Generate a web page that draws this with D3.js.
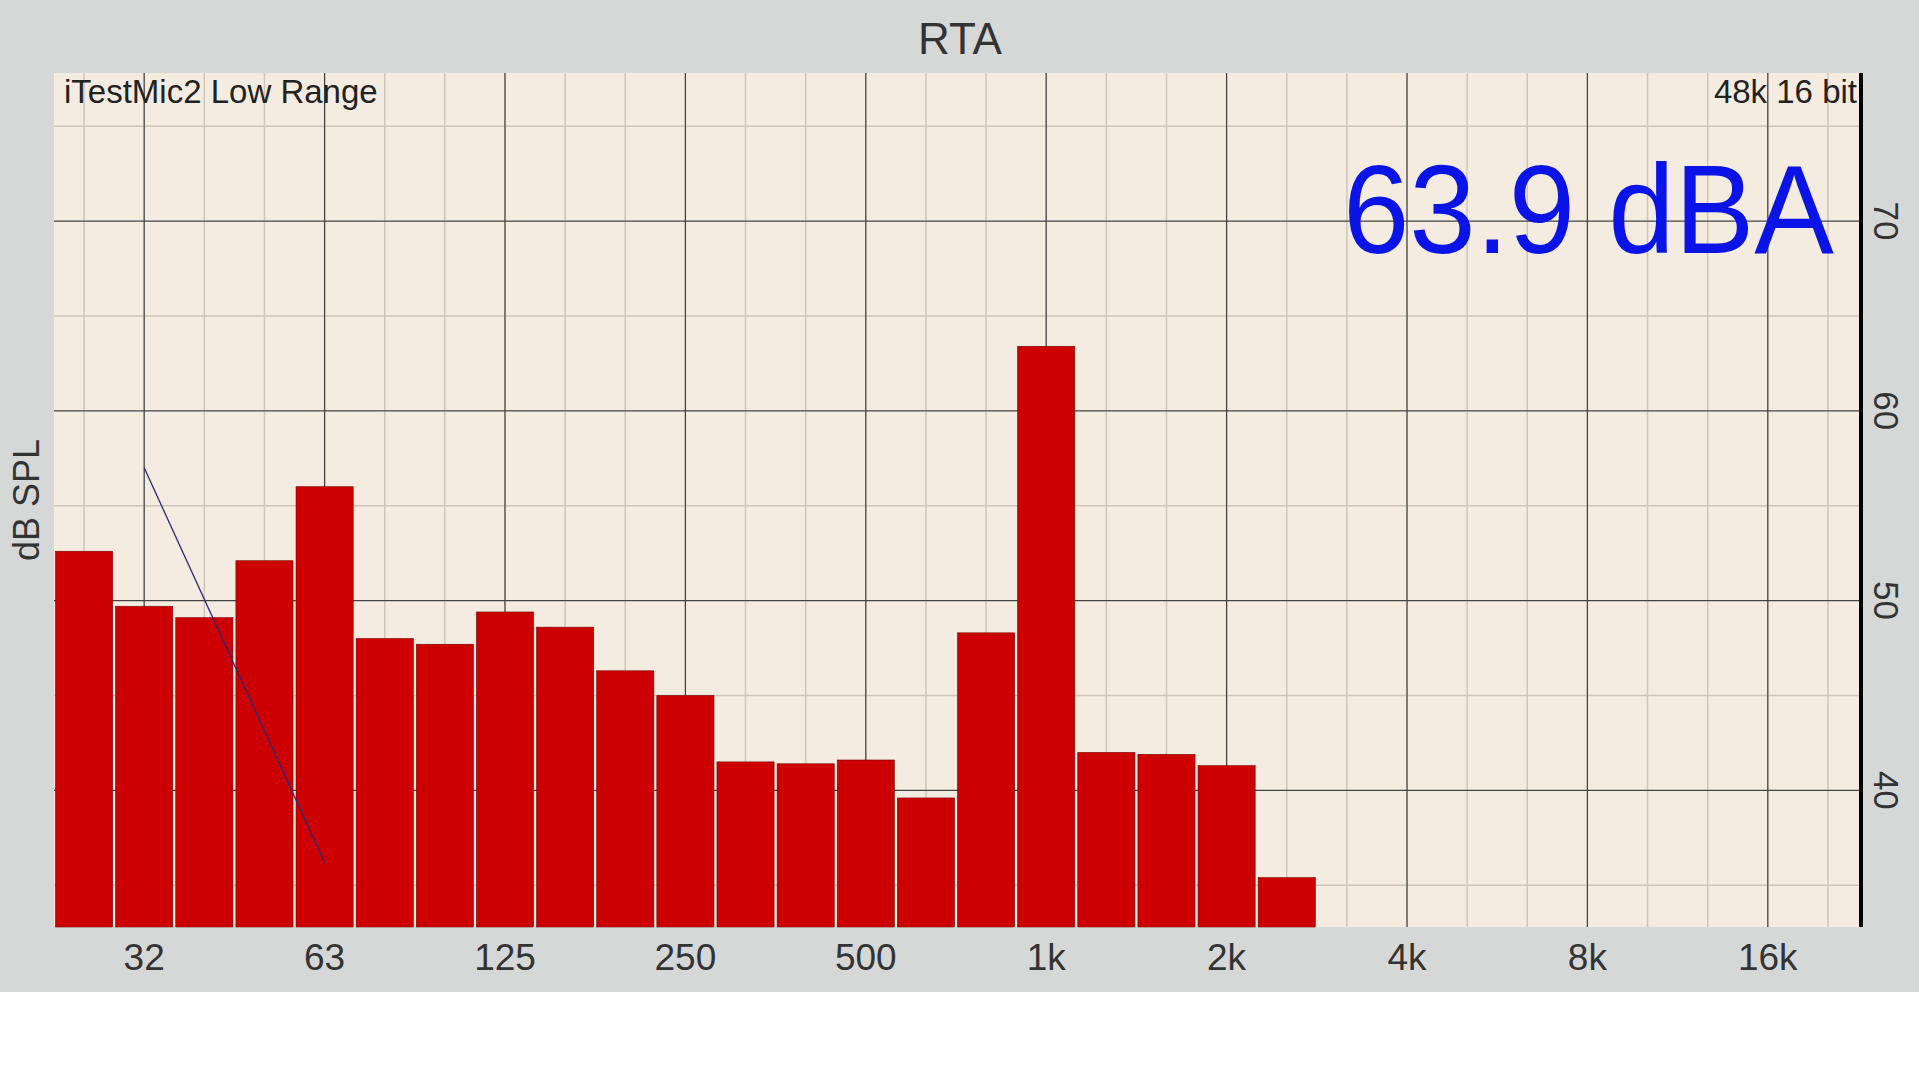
<!DOCTYPE html>
<html><head><meta charset="utf-8">
<script src="https://cdn.jsdelivr.net/npm/d3@7"></script>
<style>body{margin:0;background:#fff}svg{display:block}</style>
</head><body>
<svg id="rta"></svg>
<script>
// third-octave band index, relative to 1 kHz (k=-16 is 25 Hz)
const bands = d3.range(-16, 5);
const levels = [52.6, 49.7, 49.1, 52.1, 56.0, 48.0, 47.7, 49.4, 48.6, 46.3, 45.0,
                41.5, 41.4, 41.6, 39.6, 48.3, 63.4, 42.0, 41.9, 41.3, 35.4];
const tickLabels = ["32", "63", "125", "250", "500", "1k", "2k", "4k", "8k", "16k"];
const tickBands = [-15, -12, -9, -6, -3, 0, 3, 6, 9, 12];
const yTicks = [40, 50, 60, 70];
const curve = [[-15, 57.0], [-12, 36.2]];

const width = 1919, height = 1079;
const plotLeft = 54, plotRight = 1861, plotTop = 73, plotBottom = 927;

const x = d3.scaleLinear().domain([-16.5, 13.55]).range([plotLeft, plotRight]);
const y = d3.scaleLinear().domain([32.8, 77.8]).range([plotBottom, plotTop]);

const svg = d3.select("#rta").attr("width", width).attr("height", height);

svg.append("rect").attr("width", width).attr("height", 992).attr("fill", "#d6d8d8");
svg.append("rect").attr("x", plotLeft).attr("y", plotTop)
    .attr("width", plotRight - plotLeft).attr("height", plotBottom - plotTop).attr("fill", "#f4ece0");

// minor grid
svg.selectAll(".vminor").data(d3.range(-16, 14)).enter().append("line")
    .attr("x1", d => x(d)).attr("x2", d => x(d)).attr("y1", plotTop).attr("y2", plotBottom)
    .style("stroke", "#cfc6b8").style("stroke-width", 1.5);
svg.selectAll(".hminor").data([35, 45, 55, 65, 75]).enter().append("line")
    .attr("x1", plotLeft).attr("x2", plotRight).attr("y1", d => y(d)).attr("y2", d => y(d))
    .style("stroke", "#cfc6b8").style("stroke-width", 1.5);
// major grid
svg.selectAll(".vmajor").data(tickBands).enter().append("line")
    .attr("x1", d => x(d)).attr("x2", d => x(d)).attr("y1", plotTop).attr("y2", plotBottom)
    .style("stroke", "#444").style("stroke-width", 1.2);
svg.selectAll(".hmajor").data(yTicks).enter().append("line")
    .attr("x1", plotLeft).attr("x2", plotRight).attr("y1", d => y(d)).attr("y2", d => y(d))
    .style("stroke", "#444").style("stroke-width", 1.2);

// bars
svg.selectAll(".bar").data(bands).enter().append("rect")
    .attr("x", d => x(d - 0.5) + 1.5)
    .attr("width", x(1) - x(0) - 3)
    .attr("y", (d, i) => y(levels[i]))
    .attr("height", (d, i) => plotBottom - y(levels[i]))
    .attr("fill", "#cc0000").attr("stroke", "#7a0000").attr("stroke-width", 0.6);

svg.append("path").datum(curve)
    .attr("d", d3.line().x(d => x(d[0])).y(d => y(d[1])))
    .attr("fill", "none").attr("stroke", "#2a2a7a").attr("stroke-width", 1.3);

svg.append("line").attr("x1", plotRight).attr("x2", plotRight).attr("y1", plotTop).attr("y2", plotBottom)
    .style("stroke", "#000").style("stroke-width", 4);

const font = "Liberation Sans, Arial, sans-serif";

svg.append("text").attr("x", 960).attr("y", 54).attr("text-anchor", "middle")
    .style("font-family", font).style("font-size", "44px").style("fill", "#333").text("RTA");
svg.append("text").attr("x", 64).attr("y", 103)
    .style("font-family", font).style("font-size", "33px").style("fill", "#222").text("iTestMic2 Low Range");
svg.append("text").attr("x", 1857).attr("y", 103).attr("text-anchor", "end")
    .style("font-family", font).style("font-size", "33px").style("fill", "#222").text("48k 16 bit");
svg.append("text").attr("transform", "translate(1834,253) scale(0.94,1)").attr("text-anchor", "end")
    .style("font-family", font).style("font-size", "127px").style("fill", "#0a14e6").text("63.9 dBA");

svg.append("text").attr("transform", "translate(39,500) rotate(-90)").attr("text-anchor", "middle")
    .style("font-family", font).style("font-size", "36px").style("fill", "#333").text("dB SPL");

svg.selectAll(".ylab").data(yTicks).enter().append("text")
    .attr("transform", d => `translate(1874,${y(d)}) rotate(90)`).attr("text-anchor", "middle")
    .style("font-family", font).style("font-size", "35px").style("fill", "#333").text(d => d);

svg.selectAll(".xlab").data(tickBands).enter().append("text")
    .attr("x", d => x(d)).attr("y", 970).attr("text-anchor", "middle")
    .style("font-family", font).style("font-size", "37px").style("fill", "#333")
    .text((d, i) => tickLabels[i]);
</script>
</body></html>
